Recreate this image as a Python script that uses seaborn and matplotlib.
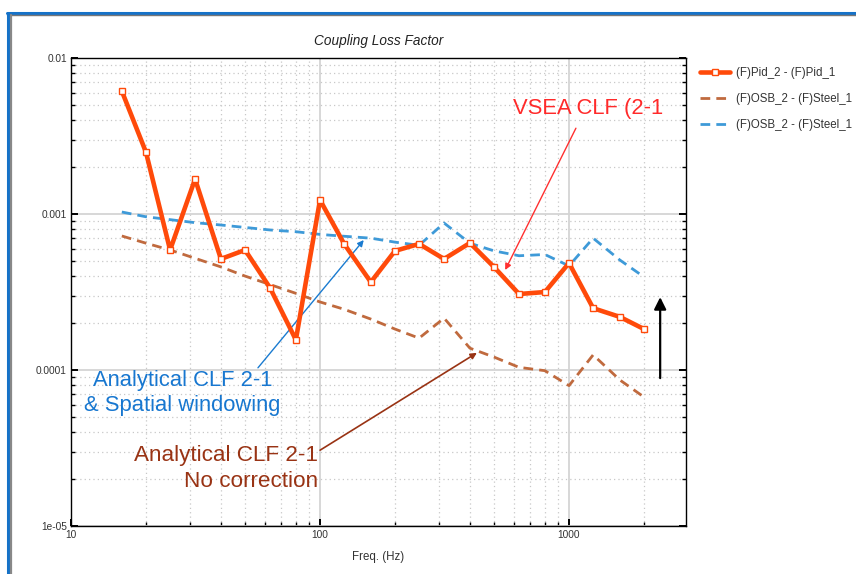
import numpy as np
import pandas as pd
import matplotlib
matplotlib.use("Agg")
import matplotlib.pyplot as plt
from matplotlib.lines import Line2D
from matplotlib.ticker import LogLocator, NullFormatter, FixedLocator, FixedFormatter
import seaborn as sns

# ---- data ----
freqs = [16, 20, 25, 31.5, 40, 50, 63, 80, 100, 125, 160, 200, 250, 315, 400,
         500, 630, 800, 1000, 1250, 1600, 2000]
pid_clf = [0.00614, 0.00249, 0.000588, 0.001675, 0.000515, 0.000588, 0.000336,
           0.000156, 0.00123, 0.000643, 0.000366, 0.00058, 0.000643, 0.000515,
           0.000652, 0.000457, 0.000307, 0.000316, 0.000485, 0.000249,
           0.000219, 0.000183]
osb_nocorr = [0.000723, 0.00065, 0.000588, 0.00052, 0.000458, 0.0004, 0.000353,
              0.00031, 0.000273, 0.000245, 0.000212, 0.000183, 0.00016, 0.000215,
              0.000138, 0.000121, 0.000104, 0.000099, 0.0000794, 0.000125,
              0.0000863, 0.0000671]
osb_window = [0.00103, 0.00096, 0.00092, 0.00088, 0.00085, 0.00082, 0.00079,
              0.00077, 0.00074, 0.00072, 0.00070, 0.00066, 0.00063, 0.000875,
              0.00065, 0.00058, 0.00054, 0.00055, 0.000465, 0.00070, 0.000507,
              0.000395]
series_names = ["(F)Pid_2 - (F)Pid_1", "(F)OSB_2 - (F)Steel_1", "(F)OSB_2 - (F)Steel_1 "]
y_tick_vals = [1e-5, 1e-4, 1e-3, 1e-2]
y_tick_labels = ["1e-05", "0.0001", "0.001", "0.01"]
x_tick_vals = [10, 100, 1000]
x_tick_labels = ["10", "100", "1000"]

sns.set_style("white")
plt.rcParams['font.family'] = ['Liberation Sans', 'DejaVu Sans']

W, H = 856, 574
fig = plt.figure(figsize=(W / 100, H / 100), dpi=100)
ax = fig.add_axes([71 / W, 1 - 526 / H, 615 / W, 468 / H])

df = pd.DataFrame({
    "freq": freqs * 3,
    "clf": pid_clf + osb_nocorr + osb_window,
    "series": [series_names[0]] * len(freqs) + [series_names[1]] * len(freqs)
              + [series_names[2]] * len(freqs),
})

c_pid = "#FF4A0A"
c_brown = "#C06A3E"
c_blue = "#3E9AD8"

sns.lineplot(data=df[df.series == series_names[0]], x="freq", y="clf", ax=ax,
             color=c_pid, lw=3.3, marker="s", markersize=4.5,
             markerfacecolor="white", markeredgecolor=c_pid, markeredgewidth=1.0,
             label=series_names[0], zorder=5)
sns.lineplot(data=df[df.series == series_names[1]], x="freq", y="clf", ax=ax,
             color=c_brown, lw=2.0, label=series_names[1], zorder=4)
sns.lineplot(data=df[df.series == series_names[2]], x="freq", y="clf", ax=ax,
             color=c_blue, lw=2.0, label=series_names[2], zorder=4)
for l in ax.lines[1:]:
    l.set_linestyle((0, (3.5, 2.2)))

ax.set_xscale("log")
ax.set_yscale("log")
ax.set_xlim(10, 2950)
ax.set_ylim(1e-5, 1e-2)

ax.xaxis.set_major_locator(FixedLocator(x_tick_vals))
ax.xaxis.set_major_formatter(FixedFormatter(x_tick_labels))
ax.yaxis.set_major_locator(FixedLocator(y_tick_vals))
ax.yaxis.set_major_formatter(FixedFormatter(y_tick_labels))
ax.xaxis.set_minor_locator(LogLocator(base=10, subs=np.arange(2, 10)))
ax.yaxis.set_minor_locator(LogLocator(base=10, subs=np.arange(2, 10)))
ax.xaxis.set_minor_formatter(NullFormatter())
ax.yaxis.set_minor_formatter(NullFormatter())

ax.grid(which="major", color="#d4d4d4", lw=1.3, ls="-")
ax.grid(which="minor", color="#c8c8c8", lw=0.9, ls=(0, (1, 2.5)))
ax.set_axisbelow(True)

ax.tick_params(which="major", direction="in", length=5, width=1.4,
               left=True, right=True, bottom=True, top=False,
               labelsize=7.3, labelcolor="#333333", pad=3, color="black")
ax.tick_params(which="minor", direction="in", length=3, width=1.0,
               left=True, right=True, bottom=True, top=False, color="black")
for s in ax.spines.values():
    s.set_color("black")
    s.set_linewidth(1.0)

ax.set_xlabel("Freq. (Hz)", fontsize=8.3, color="#333333", labelpad=8)
ax.set_ylabel("")
ax.set_title("Coupling Loss Factor", fontsize=9.8, style="italic",
             color="#222222", pad=9)

leg = ax.legend(loc="upper left", bbox_to_anchor=(695 / W, 1 - 62 / H),
                bbox_transform=fig.transFigure, frameon=False, fontsize=8.3,
                handlelength=2.6, handletextpad=0.55, labelspacing=1.22,
                borderaxespad=0)
for t in leg.get_texts():
    t.set_color("#333333")

# annotations
ax.annotate("", xy=(0.706, 0.547), xytext=(0.821, 0.850), xycoords="axes fraction",
            arrowprops=dict(arrowstyle="-|>", color="#FF3030", lw=1.0,
                            mutation_scale=9, shrinkA=0, shrinkB=0))
ax.text(0.719, 0.893, "VSEA CLF (2-1", transform=ax.transAxes, fontsize=15.8,
        color="#FF2A2A", ha="left", va="center")

ax.annotate("", xy=(0.476, 0.611), xytext=(0.304, 0.338), xycoords="axes fraction",
            arrowprops=dict(arrowstyle="-|>", color="#1A7BD0", lw=1.0,
                            mutation_scale=9, shrinkA=0, shrinkB=0))
ax.text(0.181, 0.284, "Analytical CLF 2-1\n& Spatial windowing", transform=ax.transAxes,
        fontsize=15.8, color="#1777D0", ha="center", va="center",
        multialignment="center", linespacing=1.3)

ax.annotate("", xy=(0.660, 0.370), xytext=(0.405, 0.162), xycoords="axes fraction",
            arrowprops=dict(arrowstyle="-|>", color="#993314", lw=1.2,
                            mutation_scale=9, shrinkA=0, shrinkB=0))
ax.text(0.402, 0.123, "Analytical CLF 2-1\nNo correction", transform=ax.transAxes,
        fontsize=16.2, color="#993314", ha="right", va="center",
        multialignment="right", linespacing=1.3)

ax.annotate("", xy=(0.958, 0.489), xytext=(0.958, 0.316), xycoords="axes fraction",
            arrowprops=dict(arrowstyle="-|>", color="black", lw=1.6,
                            mutation_scale=18, shrinkA=0, shrinkB=0))

# window frame
fig.add_artist(Line2D([7 / W, 1], [1 - 13 / H, 1 - 13 / H], transform=fig.transFigure,
                      color="#1572C8", lw=2.2))
fig.add_artist(Line2D([7 / W, 1], [1 - 15 / H, 1 - 15 / H], transform=fig.transFigure,
                      color="#777777", lw=1.0))
fig.add_artist(Line2D([8 / W, 8 / W], [0, 1 - 13 / H], transform=fig.transFigure,
                      color="#1572C8", lw=2.2))
fig.add_artist(Line2D([11 / W, 11 / W], [0, 1 - 15 / H], transform=fig.transFigure,
                      color="#888888", lw=1.6))

fig.savefig("out.png", dpi=100, facecolor="white")
